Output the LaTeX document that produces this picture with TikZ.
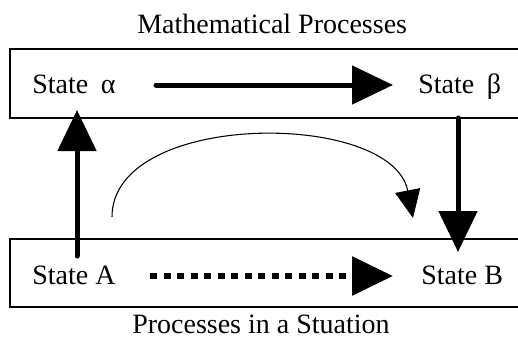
\documentclass[tikz,border=0pt]{standalone}
\usepackage{fontspec}
\setmainfont{Liberation Serif}
\usetikzlibrary{arrows.meta}
\begin{document}
\begin{tikzpicture}[x=0.75pt, y=-0.75pt,
    txt/.style={anchor=base west, inner sep=0pt, font=\fontsize{21}{25}\selectfont},
    box/.style={draw, line width=1.1pt},
    bigarrow/.style={line width=3.75pt, line cap=round,
        -{Triangle[length=30.75pt, width=28.5pt]}}]
    \clip (0,0) rectangle (518,343);

    % Levels
    \draw[box] (10,49) rectangle (540,118);
    \draw[box] (10,239) rectangle (540,307);
    \node[txt] (math) at (137,33) {Mathematical Processes};
    \node[txt] (situ) at (132,333) {Processes in a Stuation};

    % States
    \node[txt] (alpha) at (32,93) {State\hspace{0.45em}α};
    \node[txt] (beta) at (418,93) {State\hspace{0.45em}β};
    \node[txt] (stA) at (32,284) {State A};
    \node[txt] (stB) at (421,284) {State B};

    % Arrow end points
    \coordinate (alphaR) at (156,85);
    \coordinate (betaL) at (393,85);
    \coordinate (aR) at (150,276);
    \coordinate (bL) at (393,276);
    \coordinate (aUp) at (77,256);
    \coordinate (alphaDn) at (77,110);
    \coordinate (betaDn) at (458,118);
    \coordinate (bUp) at (458,252);
    \coordinate (arcS) at (112,217);
    \coordinate (arcE) at (413,218);

    % Mathematical process
    \draw[bigarrow] (alphaR) -- (betaL);
    % Process in the situation
    \draw[bigarrow, line width=4.5pt, line cap=butt, dash pattern=on 5.25pt off 4.9pt] (aR) -- (bL);
    % Mathematising and interpreting
    \draw[bigarrow] (aUp) -- (alphaDn);
    \draw[bigarrow] (betaDn) -- (bUp);
    % Shortcut
    \draw[line width=0.8pt, -{Triangle[length=21pt, width=19pt]}]
        (arcS) .. controls (112,110) and (392,110) .. (arcE);
\end{tikzpicture}
\end{document}
